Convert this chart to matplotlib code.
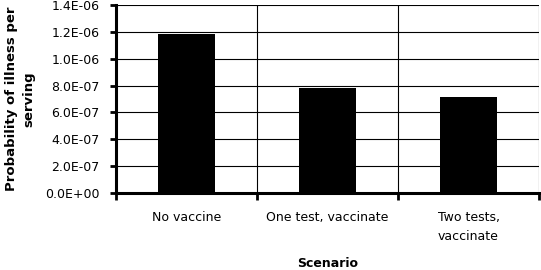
import matplotlib
matplotlib.use("Agg")
import matplotlib.pyplot as plt
import numpy as np

categories = ["No vaccine", "One test, vaccinate", "Two tests,\nvaccinate"]
values = [1.184e-6, 0.782e-6, 0.715e-6]
yticks = [0, 0.2e-6, 0.4e-6, 0.6e-6, 0.8e-6, 1.0e-6, 1.2e-6, 1.4e-6]
ytick_labels = ["0.0E+00", "2.0E-07", "4.0E-07", "6.0E-07", "8.0E-07", "1.0E-06", "1.2E-06", "1.4E-06"]

plt.rcParams['font.family'] = ['DejaVu Sans']

fig = plt.figure(figsize=(5.41, 2.70), dpi=100)
ax = fig.add_axes([116/541, 1-193/270, (539-116)/541, (193-5)/270])

x = np.arange(len(categories))
ax.bar(x, values, width=0.4, color="black", zorder=3)
ax.set_xlim(-0.5, len(categories) - 0.5)
ax.set_ylim(0, 1.4e-6)

ax.set_yticks(yticks)
ax.set_yticklabels(ytick_labels, fontsize=9)
ax.set_xticks([-0.5, 0.5, 1.5, 2.5])
ax.set_xticklabels([])
ax.set_xticks(x, minor=True)
ax.set_xticklabels(categories, minor=True, fontsize=9, linespacing=1.6)
ax.tick_params(axis='x', which='minor', length=0, pad=13)
ax.tick_params(axis='x', which='major', length=5, width=2, direction='out')
ax.tick_params(axis='y', length=4, width=2, direction='out', pad=8)

ax.grid(True, which='major', axis='both', color='black', linewidth=0.8, zorder=0)
for s in ['top', 'right']:
    ax.spines[s].set_visible(False)
ax.spines['left'].set_linewidth(2.2)
ax.spines['bottom'].set_linewidth(2.2)

ax.set_ylabel("Probability of illness per\nserving", fontsize=9.5, fontweight='bold', linespacing=1.45)
ax.yaxis.set_label_coords(-0.19, 0.5)
ax.set_xlabel("Scenario", fontsize=9, fontweight='bold')
ax.xaxis.set_label_coords(0.5, -0.34)
ax.xaxis.label.set_va('top')

fig.savefig("out.png", dpi=100)
